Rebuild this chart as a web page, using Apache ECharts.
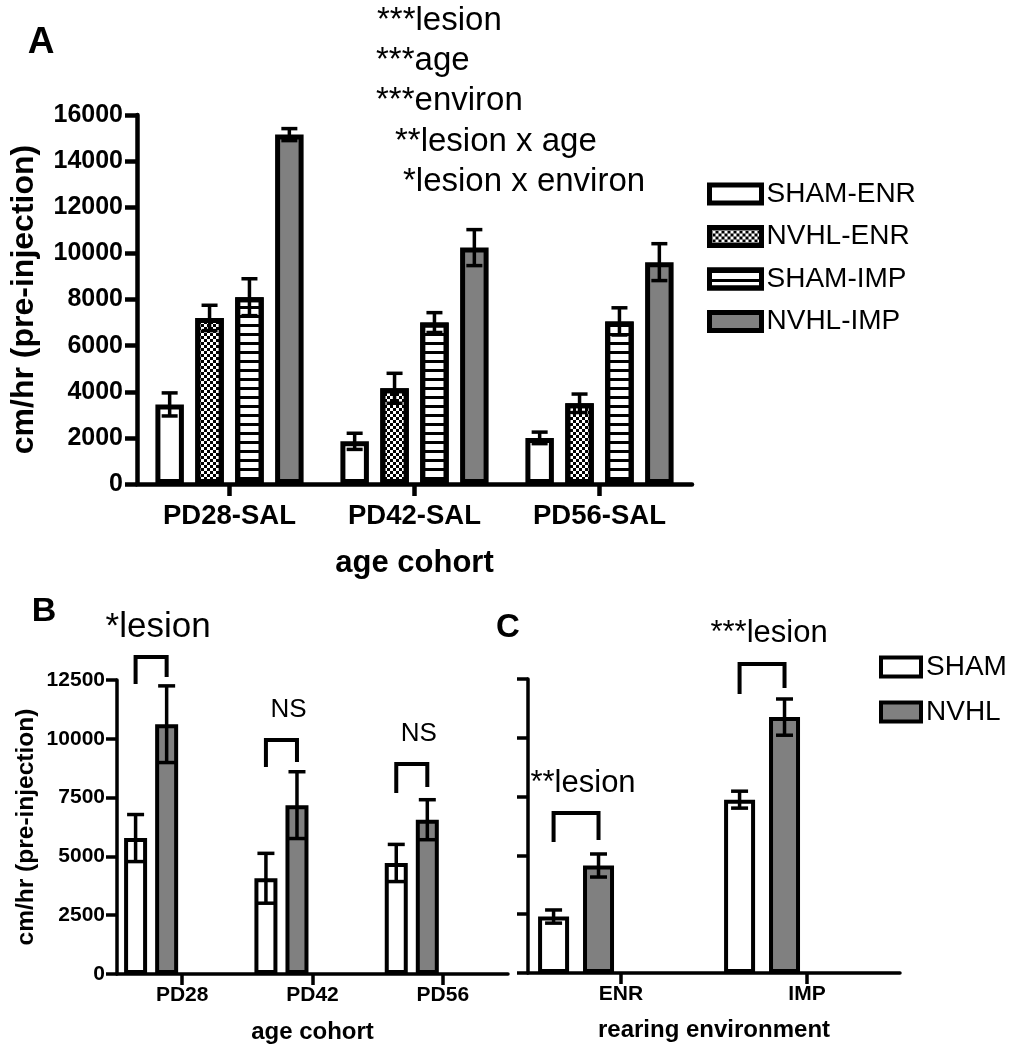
<!DOCTYPE html>
<html><head><meta charset="utf-8">
<script src="https://cdn.jsdelivr.net/npm/echarts@6/dist/echarts.min.js"></script>
<style>html,body{margin:0;padding:0;background:#fff}#c{width:1009px;height:1050px}</style>
</head><body><div id="c"></div><script>
// ---------- DATA ----------
const catA = ['PD28-SAL', 'PD42-SAL', 'PD56-SAL'];
const namesA = ['SHAM-ENR', 'NVHL-ENR', 'SHAM-IMP', 'NVHL-IMP'];
const shamEnrA = [3450, 1850, 2000];
const shamEnrErrA = [500, 350, 250];
const nvhlEnrA = [7200, 4150, 3500];
const nvhlEnrErrA = [550, 650, 400];
const shamImpA = [8100, 7000, 7050];
const shamImpErrA = [800, 430, 590];
const nvhlImpA = [15150, 10250, 9620];
const nvhlImpErrA = [260, 780, 800];
const statsA = ['***lesion', '***age', '***environ', '**lesion x age', '*lesion x environ'];

const catB = ['PD28', 'PD42', 'PD56'];
const shamB = [5780, 4070, 4720];
const shamErrB = [1000, 1060, 790];
const nvhlB = [10620, 7180, 6560];
const nvhlErrB = [1630, 1420, 850];
const bracketTopB = [13480, 9950, 8930];
const bracketLeftB = [12330, 8800, 7700];
const bracketRightB = [12630, 9010, 7950];
const labelsB = ['*lesion', 'NS', 'NS'];

const catC = ['ENR', 'IMP'];
const shamC = [2400, 7370];
const shamErrC = [280, 360];
const nvhlC = [4570, 10880];
const nvhlErrC = [490, 770];
const bracketTopC = [6800, 13140];
const bracketLeftC = [5570, 11860];
const bracketRightC = [5650, 12120];
const labelsC = ['**lesion', '***lesion'];

const namesBC = ['SHAM', 'NVHL'];

// ---------- STYLE ----------
const FONT = '"Liberation Sans", Arial, Helvetica, sans-serif';
const GRAY = '#808080';
const cfgA = {barW: 28.5, gap: 0.40, n: 4, bw: 5};
const cfgB = {barW: 23, gap: 0.35, n: 4, bw: 4};
const cfgC = {barW: 31, gap: 0.45, n: 4, bw: 4};
const checker = {symbol: 'rect', symbolSize: 1, color: '#000', dashArrayX: [[3, 3], [0, 3, 3, 0]], dashArrayY: [3, 0], rotation: 0};
const stripes = {symbol: 'rect', symbolSize: 1, color: '#000', dashArrayX: [1, 0], dashArrayY: [2.5, 5.5], rotation: 0};

function bar(name, xi, cfg, data, color, decal) {
  const s = {
    name, type: 'bar', xAxisIndex: xi, yAxisIndex: xi, data,
    barWidth: cfg.barW, barGap: Math.round(cfg.gap * 100) + '%',
    itemStyle: {color, borderColor: '#000', borderWidth: cfg.bw},
    emphasis: {disabled: true}, silent: true, z: 2
  };
  if (decal) s.itemStyle.decal = decal;
  return s;
}
function pad(xi, cfg, len, k) {
  return {name: 'pad' + xi + k, type: 'bar', xAxisIndex: xi, yAxisIndex: xi,
    data: new Array(len).fill('-'), barWidth: cfg.barW, barGap: Math.round(cfg.gap * 100) + '%', silent: true};
}
function errSeries(xi, cfg, slot, means, errs, capW, lw) {
  return {
    type: 'custom', xAxisIndex: xi, yAxisIndex: xi, z: 5, silent: true,
    data: means.map((m, i) => [i, m, errs[i]]),
    encode: {x: 0, y: 1},
    renderItem(params, api) {
      const c = api.value(0), m = api.value(1), e = api.value(2);
      const sp = cfg.barW * (1 + cfg.gap);
      const x = api.coord([c, m])[0] + (slot - (cfg.n - 1) / 2) * sp;
      const yt = api.coord([c, m + e])[1], yb = api.coord([c, m - e])[1];
      const st = {stroke: '#000', lineWidth: lw};
      return {type: 'group', children: [
        {type: 'line', shape: {x1: x, y1: yt, x2: x, y2: yb}, style: st},
        {type: 'line', shape: {x1: x - capW / 2, y1: yt, x2: x + capW / 2, y2: yt}, style: st},
        {type: 'line', shape: {x1: x - capW / 2, y1: yb, x2: x + capW / 2, y2: yb}, style: st}
      ]};
    }
  };
}
function bracketSeries(xi, cfg, tops, lefts, rights, labels, fsFn) {
  return {
    type: 'custom', xAxisIndex: xi, yAxisIndex: xi, z: 5, silent: true,
    data: tops.map((t, i) => [i, t, lefts[i], rights[i]]),
    encode: {x: 0, y: 1},
    renderItem(params, api) {
      const c = api.value(0);
      const sp = cfg.barW * (1 + cfg.gap);
      const cx = api.coord([c, 0])[0];
      const xl = cx + (0 - (cfg.n - 1) / 2) * sp, xr = cx + (1 - (cfg.n - 1) / 2) * sp;
      const yt = api.coord([c, api.value(1)])[1];
      const yl = api.coord([c, api.value(2)])[1];
      const yr = api.coord([c, api.value(3)])[1];
      const lab = labels[params.dataIndex];
      return {type: 'group', children: [
        {type: 'polyline', shape: {points: [[xl, yl], [xl, yt], [xr, yt], [xr, yr]]},
          style: {stroke: '#000', lineWidth: 4, fill: null, lineJoin: 'miter'}},
        {type: 'text', x: (xl + xr) / 2 + 7, y: yt - 30,
          style: {text: lab, fontSize: fsFn(lab), fontFamily: FONT, fill: '#000', align: 'center', verticalAlign: 'middle'}}
      ]};
    }
  };
}
function xAx(gi, data, lw, tickLen, labFs, labMargin, name, nameFs, nameGap) {
  return {gridIndex: gi, type: 'category', data,
    axisLine: {show: true, lineStyle: {color: '#000', width: lw}},
    axisTick: {show: true, alignWithLabel: true, length: tickLen, lineStyle: {color: '#000', width: lw}},
    axisLabel: {color: '#000', fontWeight: 'bold', fontSize: labFs, fontFamily: FONT, margin: labMargin},
    splitLine: {show: false},
    name, nameLocation: 'middle', nameGap,
    nameTextStyle: {color: '#000', fontWeight: 'bold', fontSize: nameFs, fontFamily: FONT}};
}
function yAx(gi, max, interval, lw, tickLen, labShow, labFs, labMargin, name, nameFs, nameGap) {
  return {gridIndex: gi, type: 'value', min: 0, max, interval,
    axisLine: {show: true, lineStyle: {color: '#000', width: lw}},
    axisTick: {show: true, length: tickLen, lineStyle: {color: '#000', width: lw}},
    axisLabel: {show: labShow, color: '#000', fontWeight: 'bold', fontSize: labFs, fontFamily: FONT, margin: labMargin,
      formatter: v => String(v)},
    splitLine: {show: false},
    name, nameLocation: 'middle', nameGap,
    nameTextStyle: {color: '#000', fontWeight: 'bold', fontSize: nameFs, fontFamily: FONT}};
}

const statX = [377, 376, 376, 395, 403];
const statY = [20.5, 60.5, 100.5, 141.5, 181.5];

const option = {
  animation: false,
  backgroundColor: '#fff',
  grid: [
    {left: 137, top: 115, width: 555, height: 369},
    {left: 117, top: 680, width: 391, height: 294},
    {left: 528, top: 679, width: 372, height: 294}
  ],
  xAxis: [
    xAx(0, catA, 4.5, 12, 27.5, 18, 'age cohort', 31, 64),
    xAx(1, catB, 3.5, 11, 21, 11, 'age cohort', 24, 46),
    xAx(2, catC, 3.5, 11, 21, 11, 'rearing environment', 24, 45)
  ],
  yAxis: [
    yAx(0, 16000, 2000, 4.5, 12, true, 25, 14, 'cm/hr (pre-injection)', 32, 97),
    yAx(1, 12500, 2500, 3.5, 11, true, 21, 12, 'cm/hr (pre-injection)', 24.5, 78),
    yAx(2, 12500, 2500, 3.5, 11, false, 21, 12, '', 24, 60)
  ],
  legend: [
    {data: namesA, orient: 'vertical', left: 702, top: 175, itemWidth: 52, itemHeight: 18, itemGap: 14.5,
      icon: 'rect', selectedMode: false,
      textStyle: {fontSize: 28, fontFamily: FONT, color: '#000', padding: [0, 0, 0, 0]},
      itemStyle: {borderWidth: 5, borderColor: '#000'}},
    {data: namesBC, orient: 'vertical', left: 874, top: 648, itemWidth: 40, itemHeight: 19, itemGap: 17,
      icon: 'rect', selectedMode: false,
      textStyle: {fontSize: 28, fontFamily: FONT, color: '#000', padding: [0, 0, 0, 0]},
      itemStyle: {borderWidth: 4, borderColor: '#000'}}
  ],
  graphic: [
    {type: 'text', x: 41, y: 43, style: {text: 'A', fontSize: 37, fontWeight: 'bold', fontFamily: FONT, fill: '#000', align: 'center', verticalAlign: 'middle'}},
    {type: 'text', x: 44, y: 612, style: {text: 'B', fontSize: 34, fontWeight: 'bold', fontFamily: FONT, fill: '#000', align: 'center', verticalAlign: 'middle'}},
    {type: 'text', x: 508, y: 628, style: {text: 'C', fontSize: 33, fontWeight: 'bold', fontFamily: FONT, fill: '#000', align: 'center', verticalAlign: 'middle'}}
  ].concat(statsA.map((t, i) => ({type: 'text', x: statX[i], y: statY[i],
    style: {text: t, fontSize: 33, fontFamily: FONT, fill: '#000', align: 'left', verticalAlign: 'middle'}}))),
  series: [
    bar('SHAM-ENR', 0, cfgA, shamEnrA, '#fff'),
    bar('NVHL-ENR', 0, cfgA, nvhlEnrA, '#fff', checker),
    bar('SHAM-IMP', 0, cfgA, shamImpA, '#fff', stripes),
    bar('NVHL-IMP', 0, cfgA, nvhlImpA, GRAY),
    errSeries(0, cfgA, 0, shamEnrA, shamEnrErrA, 16, 3.5),
    errSeries(0, cfgA, 1, nvhlEnrA, nvhlEnrErrA, 16, 3.5),
    errSeries(0, cfgA, 2, shamImpA, shamImpErrA, 16, 3.5),
    errSeries(0, cfgA, 3, nvhlImpA, nvhlImpErrA, 16, 3.5),

    bar('SHAM', 1, cfgB, shamB, '#fff'),
    bar('NVHL', 1, cfgB, nvhlB, GRAY),
    pad(1, cfgB, catB.length, 1),
    pad(1, cfgB, catB.length, 2),
    errSeries(1, cfgB, 0, shamB, shamErrB, 17, 3.5),
    errSeries(1, cfgB, 1, nvhlB, nvhlErrB, 17, 3.5),
    bracketSeries(1, cfgB, bracketTopB, bracketLeftB, bracketRightB, labelsB, lab => lab === 'NS' ? 26 : 35),

    bar('SHAM', 2, cfgC, shamC, '#fff'),
    bar('NVHL', 2, cfgC, nvhlC, GRAY),
    pad(2, cfgC, catC.length, 1),
    pad(2, cfgC, catC.length, 2),
    errSeries(2, cfgC, 0, shamC, shamErrC, 17, 3.5),
    errSeries(2, cfgC, 1, nvhlC, nvhlErrC, 17, 3.5),
    bracketSeries(2, cfgC, bracketTopC, bracketLeftC, bracketRightC, labelsC, lab => 31)
  ]
};
const chart = echarts.init(document.getElementById('c'), null, {renderer: 'canvas'});
chart.setOption(option);
</script></body></html>
